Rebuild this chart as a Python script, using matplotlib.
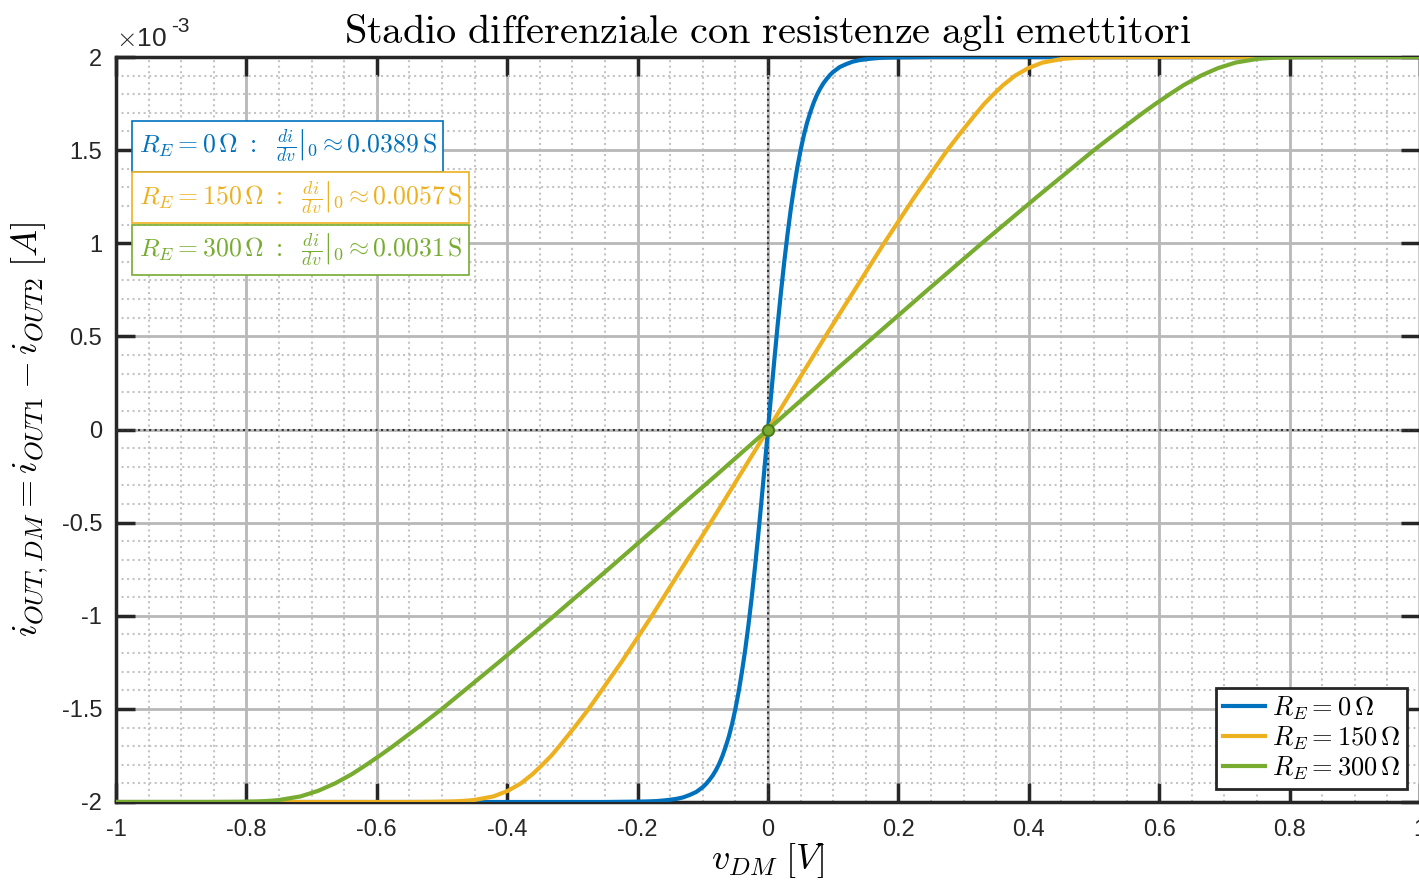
import numpy as np
import matplotlib
matplotlib.use('Agg')
import matplotlib.pyplot as plt
from matplotlib.ticker import MultipleLocator

plt.rcParams['mathtext.fontset'] = 'cm'
plt.rcParams['font.family'] = ['Liberation Sans', 'DejaVu Sans']

# Curves: v_DM [V] and i_OUT,DM [mA]
v_re0 = [-1.0, -0.25, -0.20, -0.185, -0.17, -0.155, -0.14, -0.13, -0.12, -0.11, -0.10,
         -0.095, -0.09, -0.085, -0.08, -0.075, -0.07, -0.065, -0.06, -0.055, -0.05,
         -0.045, -0.04, -0.035, -0.03, -0.025, -0.02, -0.015, -0.01, -0.005, 0.0,
         0.005, 0.01, 0.015, 0.02, 0.025, 0.03, 0.035, 0.04, 0.045, 0.05,
         0.055, 0.06, 0.065, 0.07, 0.075, 0.08, 0.085, 0.09, 0.095, 0.10,
         0.11, 0.12, 0.13, 0.14, 0.155, 0.17, 0.185, 0.20, 0.25, 1.0]
i_re0 = [-2.0, -2.0, -1.998, -1.997, -1.995, -1.990, -1.983, -1.975, -1.962, -1.946, -1.920,
         -1.903, -1.882, -1.859, -1.830, -1.796, -1.754, -1.704, -1.648, -1.580, -1.500,
         -1.408, -1.302, -1.184, -1.050, -0.902, -0.741, -0.568, -0.384, -0.194, 0.0,
         0.194, 0.384, 0.568, 0.741, 0.902, 1.050, 1.184, 1.302, 1.408, 1.500,
         1.580, 1.648, 1.704, 1.754, 1.796, 1.830, 1.859, 1.882, 1.903, 1.920,
         1.946, 1.962, 1.975, 1.983, 1.990, 1.995, 1.997, 1.998, 2.0, 2.0]

v_re150 = [-1.0, -0.56, -0.513, -0.485, -0.471, -0.452, -0.421, -0.399, -0.379, -0.361,
           -0.346, -0.332, -0.320, -0.297, -0.275, -0.225, -0.178, -0.133, -0.088, -0.044,
           0.0, 0.044, 0.088, 0.133, 0.178, 0.225, 0.275, 0.297, 0.320, 0.332, 0.346,
           0.361, 0.379, 0.399, 0.421, 0.452, 0.471, 0.485, 0.513, 0.56, 1.0]
i_re150 = [-2.0, -2.0, -1.999, -1.997, -1.995, -1.99, -1.97, -1.94, -1.90, -1.85,
           -1.80, -1.75, -1.70, -1.60, -1.50, -1.25, -1.00, -0.75, -0.50, -0.25,
           0.0, 0.25, 0.50, 0.75, 1.00, 1.25, 1.50, 1.60, 1.70, 1.75, 1.80,
           1.85, 1.90, 1.94, 1.97, 1.99, 1.995, 1.997, 1.999, 2.0, 2.0]

v_re300 = [-1.0, -0.86, -0.813, -0.784, -0.770, -0.751, -0.717, -0.690, -0.664, -0.638,
           -0.616, -0.595, -0.575, -0.537, -0.500, -0.413, -0.328, -0.245, -0.163, -0.081,
           0.0, 0.081, 0.163, 0.245, 0.328, 0.413, 0.500, 0.537, 0.575, 0.595, 0.616,
           0.638, 0.664, 0.690, 0.717, 0.751, 0.770, 0.784, 0.813, 0.86, 1.0]
i_re300 = [-2.0, -2.0, -1.999, -1.997, -1.995, -1.99, -1.97, -1.94, -1.90, -1.85,
           -1.80, -1.75, -1.70, -1.60, -1.50, -1.25, -1.00, -0.75, -0.50, -0.25,
           0.0, 0.25, 0.50, 0.75, 1.00, 1.25, 1.50, 1.60, 1.70, 1.75, 1.80,
           1.85, 1.90, 1.94, 1.97, 1.99, 1.995, 1.997, 1.999, 2.0, 2.0]

labels = [r'$R_E = 0\,\Omega$', r'$R_E = 150\,\Omega$', r'$R_E = 300\,\Omega$']
slopes = ['0.0389', '0.0057', '0.0031']
colors = ['#0072BD', '#EDB120', '#77AC30']

xticks = [-1, -0.8, -0.6, -0.4, -0.2, 0, 0.2, 0.4, 0.6, 0.8, 1]
xticklabels = ['-1', '-0.8', '-0.6', '-0.4', '-0.2', '0', '0.2', '0.4', '0.6', '0.8', '1']
yticks = [-2, -1.5, -1, -0.5, 0, 0.5, 1, 1.5, 2]
yticklabels = ['-2', '-1.5', '-1', '-0.5', '0', '0.5', '1', '1.5', '2']

fig = plt.figure(figsize=(14.19, 8.84), dpi=100)
ax = fig.add_axes([116 / 1419, 1 - 802 / 884, 1 - 116 / 1419 + 0.0007, (802 - 57) / 884])

series = [(v_re0, i_re0), (v_re150, i_re150), (v_re300, i_re300)]
for (v, i), lab, c in zip(series, labels, colors):
    ax.plot(v, np.array(i) * 1e-3, color=c, lw=3, label=lab, zorder=4,
            solid_joinstyle='round')

ax.axhline(0, color='#333333', lw=1.5, ls=':', zorder=3)
ax.axvline(0, color='#333333', lw=1.5, ls=':', zorder=3)
ax.plot([0], [0], 'o', ms=8, mfc='#77AC30', mec='#4f7a1c', mew=1.5, zorder=5)

ax.set_xlim(-1, 1)
ax.set_ylim(-2e-3, 2e-3)
ax.set_xticks(xticks)
ax.set_xticklabels(xticklabels)
ax.set_yticks(np.array(yticks) * 1e-3)
ax.set_yticklabels(yticklabels)
ax.xaxis.set_minor_locator(MultipleLocator(0.05))
ax.yaxis.set_minor_locator(MultipleLocator(0.1e-3))
ax.tick_params(which='major', direction='in', length=14, width=2.5, colors='#262626',
               labelsize=17, top=True, right=True)
ax.tick_params(axis='x', which='major', pad=12)
ax.tick_params(axis='y', which='major', pad=10)
ax.tick_params(which='minor', length=0)
ax.grid(True, which='major', color='#b8b8b8', lw=2, zorder=0)
ax.grid(True, which='minor', color='#c4c4c4', lw=1.5, ls=':', zorder=0)
ax.set_axisbelow(True)
for s in ax.spines.values():
    s.set_linewidth(2.5)
    s.set_color('#262626')

ax.text(0.0, 1.008, r'$\times$10', transform=ax.transAxes, fontsize=19, color='#262626',
        ha='left', va='bottom')
ax.text(0.042, 1.028, '-3', transform=ax.transAxes, fontsize=15, color='#262626',
        ha='left', va='bottom')

ax.set_title(r'$\mathrm{Stadio\ differenziale\ con\ resistenze\ agli\ emettitori}$',
             fontsize=29, pad=10)
ax.set_xlabel(r'$v_{DM}\;[V]$', fontsize=26, labelpad=0)
ax.set_ylabel(r'$i_{OUT,DM} = i_{OUT1} - i_{OUT2}\;[A]$', fontsize=26, labelpad=8)

box_y = [0.880, 0.811, 0.741]
for lab, s, c, y in zip(labels, slopes, colors, box_y):
    txt = lab[:-1] + r'\ :\ \ \left.\frac{di}{dv}\right|_0 \approx ' + s + r'\,\mathrm{S}$'
    ax.text(0.0175, y, txt, transform=ax.transAxes, color=c, fontsize=18.5, ha='left',
            va='center', zorder=6,
            bbox=dict(boxstyle='square,pad=0.25', fc='white', ec=c, lw=1.2))

leg = ax.legend(loc='lower right', fontsize=19, fancybox=False, framealpha=1,
                edgecolor='#262626', handlelength=1.6, borderpad=0.25, labelspacing=0.1,
                handletextpad=0.25, borderaxespad=0.5)
leg.get_frame().set_linewidth(2)
leg.set_zorder(7)

fig.savefig('out.png', dpi=100)
